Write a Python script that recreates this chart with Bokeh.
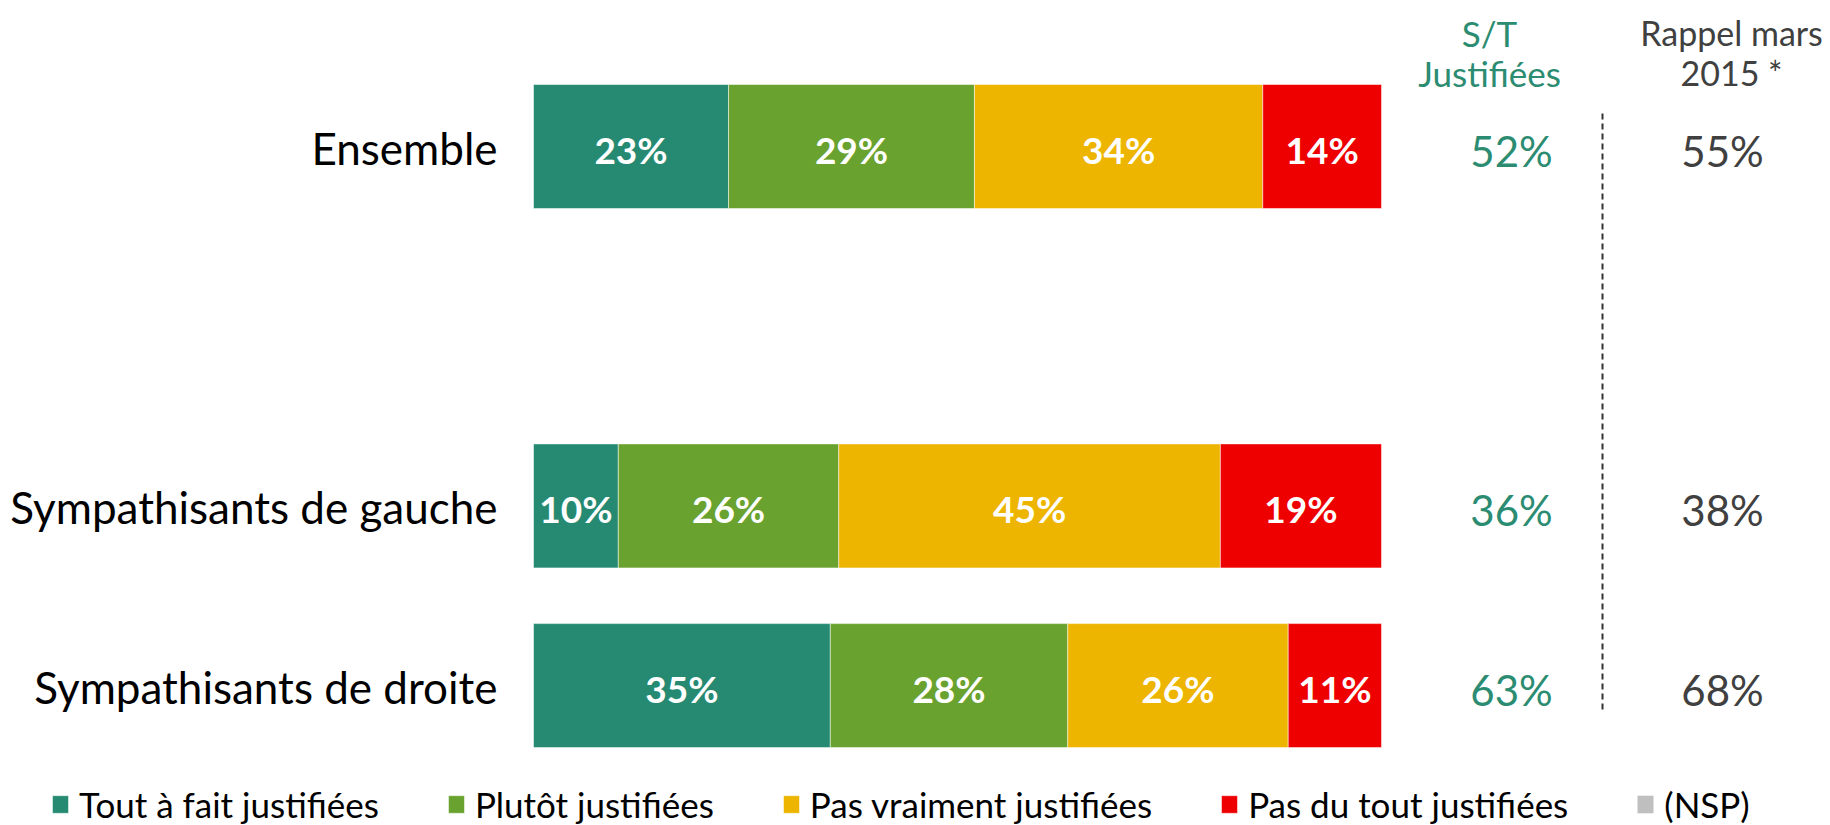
import numpy as np
from bokeh.plotting import figure
from bokeh.models import ColumnDataSource, Range1d, Legend, LegendItem
from bokeh.core.properties import value
from bokeh.embed import file_html
from bokeh.resources import INLINE

# ---------------- data ----------------
categories = ["Ensemble", "Sympathisants de gauche", "Sympathisants de droite"]
tout_a_fait = [23, 10, 35]
plutot = [29, 26, 28]
pas_vraiment = [34, 45, 26]
pas_du_tout = [14, 19, 11]
nsp = [0, 0, 0]
rappel_mars_2015 = [55, 38, 68]
series_names = ["Tout à fait justifiées", "Plutôt justifiées",
                "Pas vraiment justifiées", "Pas du tout justifiées", "(NSP)"]
colors = ["#268A72", "#6AA22F", "#EDB500", "#EE0000", "#BFBFBF"]
header_st = ["S/T", "Justifiées"]
header_rappel = ["Rappel mars", "2015 *"]

# slot order bottom -> top (a blank slot separates "Ensemble" from the groups)
slots = ["Sympathisants de droite", "Sympathisants de gauche", None, "Ensemble"]
ypos = [slots.index(c) for c in categories]

FONT = "Lato"
W, H = 1830, 825
OFF_X, OFF_Y = 0, 0          # where the canvas sits on the page
PX_PER_PCT = 8.48            # horizontal scale, px per percent
BAR_X0 = 533                 # page x of 0 %
UNIT = 179.7                 # px per slot
TOP_SLOT_Y = 146             # page y of the top slot centre

x_start = (OFF_X - BAR_X0) / PX_PER_PCT
x_end = x_start + W / PX_PER_PCT
y_top = (len(slots) - 1) + (TOP_SLOT_Y - OFF_Y) / UNIT
y_bot = y_top - H / UNIT

def px_x(page_x):
    return (page_x - BAR_X0) / PX_PER_PCT

def px_y(page_y):
    return y_top - (page_y - OFF_Y) / UNIT

stackers = ["s0", "s1", "s2", "s3", "s4"]
series = [tout_a_fait, plutot, pas_vraiment, pas_du_tout, nsp]
data = {"y": ypos, "cat": categories}
for k, s in zip(stackers, series):
    data[k] = s
source = ColumnDataSource(data)

p = figure(width=W, height=H,
           y_range=Range1d(y_bot, y_top),
           x_range=Range1d(x_start, x_end),
           x_axis_location=None, y_axis_location=None,
           toolbar_location=None, output_backend="svg",
           min_border=0)
p.outline_line_color = None
p.xgrid.visible = False
p.ygrid.visible = False
p.background_fill_color = "white"
p.border_fill_color = "white"

# category labels (right-aligned just left of the bars)
p.text(x=[px_x(497)] * 3, y=ypos, text=categories, text_color="black",
       text_font=value(FONT), text_font_size="44px",
       text_align="right", text_baseline="middle", y_offset=1)

renderers = p.hbar_stack(stackers, y="y", height=0.69, color=colors,
                         source=source, line_color="white", line_width=1,
                         line_alpha=0.5)
renderers[-1].glyph.line_alpha = 0

# segment labels
arr = np.array(series[:4], dtype=float)
cum = np.cumsum(arr, axis=0)
mids = cum - arr / 2
lx, ly, lt = [], [], []
for i in range(4):
    for j, yv in enumerate(ypos):
        lx.append(mids[i, j]); ly.append(yv); lt.append(f"{int(arr[i, j])}%")
p.text(x=lx, y=ly, text=lt, text_color="white", text_font=value(FONT),
       text_font_style="bold", text_font_size="37px",
       text_align="center", text_baseline="middle", y_offset=3)

# right-hand columns
st_values = [a + b for a, b in zip(tout_a_fait, plutot)]
p.text(x=[px_x(1511)] * 3, y=ypos, text=[f"{v}%" for v in st_values],
       text_color="#2B8C72", text_font=value(FONT), text_font_size="42px",
       text_align="center", text_baseline="middle", y_offset=4)
p.text(x=[px_x(1722)] * 3, y=ypos, text=[f"{v}%" for v in rappel_mars_2015],
       text_color="#404040", text_font=value(FONT), text_font_size="42px",
       text_align="center", text_baseline="middle", y_offset=4)

hy = [px_y(32), px_y(72)]
p.text(x=[px_x(1489)] * 2, y=hy, text=header_st,
       text_color="#2B8C72", text_font=value(FONT), text_font_size="35px",
       text_align="center", text_baseline="middle")
p.text(x=[px_x(1731)] * 2, y=hy, text=header_rappel,
       text_color="#404040", text_font=value(FONT), text_font_size="34px",
       text_align="center", text_baseline="middle")

# dashed separator
p.segment(x0=[px_x(1602)], y0=[px_y(113)], x1=[px_x(1602)], y1=[px_y(712)],
          line_color="#333333", line_width=2, line_dash="6 4")

legend = Legend(items=[LegendItem(label=n, renderers=[r])
                       for n, r in zip(series_names, renderers)],
                orientation="horizontal", location=(50 - OFF_X, 0),
                spacing=67, glyph_width=20, glyph_height=22, label_standoff=9,
                padding=0, margin=0, border_line_color=None,
                background_fill_alpha=0,
                label_text_font=FONT, label_text_font_size="35px",
                label_text_color="black")
p.add_layout(legend)

open("out.html", "w").write(file_html(p, INLINE))
